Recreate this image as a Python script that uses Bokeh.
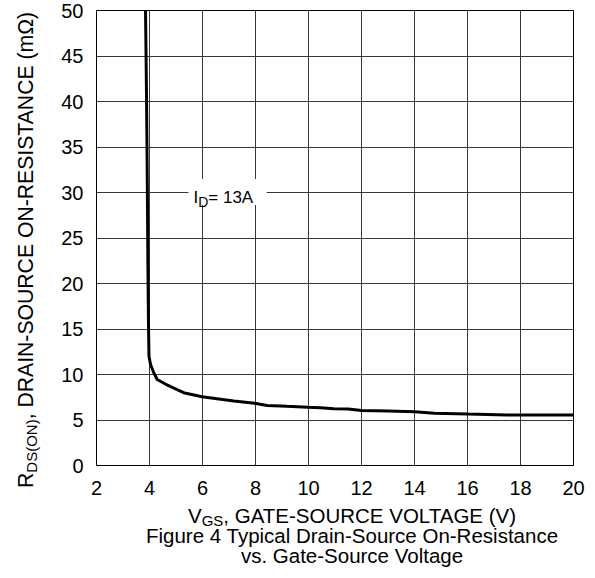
from bokeh.plotting import figure
from bokeh.models import Range1d, FixedTicker, Label, BoxAnnotation, Div
from bokeh.layouts import row, column
from bokeh.embed import file_html
from bokeh.resources import INLINE

# ---- data ----
vgs = [3.85, 3.87, 3.89, 3.92, 3.94, 3.96, 3.97, 3.98, 4.04, 4.16, 4.29, 4.6,
       4.92, 5.29, 5.98, 7.18, 7.97, 8.44, 9.19, 9.98, 10.45, 10.95, 11.5,
       12.0, 13.0, 14.0, 14.75, 16.0, 17.5, 18.0, 20.0]
rds = [50, 45, 40, 30, 22, 16, 14, 12, 11.1, 10.2, 9.45, 8.95,
       8.5, 8.0, 7.55, 7.1, 6.83, 6.6, 6.5, 6.4, 6.35, 6.24, 6.2,
       6.05, 6.0, 5.9, 5.75, 5.65, 5.55, 5.55, 5.55]
x_ticks = [2, 4, 6, 8, 10, 12, 14, 16, 18, 20]
y_ticks = [0, 5, 10, 15, 20, 25, 30, 35, 40, 45, 50]
curve_label = ("I", "D", "= 13A")
x_label = ("V", "GS", ", GATE-SOURCE VOLTAGE (V)")
y_label = ("R", "DS(ON)", ", DRAIN-SOURCE ON-RESISTANCE (m\u03a9)")
caption = ["Figure 4 Typical Drain-Source On-Resistance", "vs. Gate-Source Voltage"]

FONT = "Liberation Sans"

p = figure(width=555, height=505, output_backend="svg", toolbar_location=None,
           x_range=Range1d(2, 20), y_range=Range1d(0, 50),
           min_border_left=56, min_border_right=22, min_border_top=10,
           min_border_bottom=40)
p.background_fill_color = "white"
p.border_fill_color = "white"
p.outline_line_color = "black"
p.outline_line_width = 1

for ax, ticks in ((p.xaxis[0], x_ticks), (p.yaxis[0], y_ticks)):
    ax.ticker = FixedTicker(ticks=ticks)
    ax.axis_line_color = None
    ax.major_tick_line_color = None
    ax.minor_tick_line_color = None
    ax.major_tick_out = 0
    ax.major_tick_in = 0
    ax.minor_tick_out = 0
    ax.major_label_text_font = FONT
    ax.major_label_text_font_size = "20px"
    ax.major_label_text_color = "black"
    ax.axis_label = None
p.xaxis.major_label_standoff = 15
p.yaxis.major_label_standoff = 13

p.xgrid.ticker = FixedTicker(ticks=x_ticks)
p.ygrid.ticker = FixedTicker(ticks=y_ticks)
for g in (p.xgrid[0], p.ygrid[0]):
    g.grid_line_color = "#383838"
    g.grid_line_width = 1

p.line(vgs, rds, line_color="black", line_width=3)

# white box behind the curve label
p.add_layout(BoxAnnotation(left=5.47, right=8.42, bottom=28.63, top=31.48,
                           fill_color="white", fill_alpha=1.0, line_color=None))

def lab(text, x, y, dx, dy, size):
    p.add_layout(Label(x=x, y=y, x_offset=dx, y_offset=dy, text=text,
                       text_font=FONT, text_font_size=f"{size}px",
                       text_color="black", text_align="left",
                       text_baseline="alphabetic"))

# curve label I_D = 13A (anchored at V=2, R=30)
lab(curve_label[0], 2, 30, 97, -4.5, 17)
lab(curve_label[1], 2, 30, 101.8, -9.5, 14)
lab(curve_label[2], 2, 30, 111.8, -4.5, 17)

# ---- y-axis label (rotated HTML text so subscripts stay real text) ----
font_css = f"font-family:'{FONT}';color:black;white-space:nowrap;"
y_html = (
    "<div style='position:relative;width:40px;height:576px;'>"
    "<div style=\"position:absolute;left:14.5px;top:488px;transform-origin:0 0;"
    "transform:rotate(-90deg);font-size:21.2px;line-height:21px;" + font_css + "\">"
    f"{y_label[0]}<span style='font-size:15px;position:relative;top:3.5px;'>{y_label[1]}</span>{y_label[2]}"
    "</div></div>"
)
ydiv = Div(text=y_html, width=40, height=576, margin=0)

# ---- x-axis label and caption (three centred lines) ----
def line_div(inner, top):
    return ("<div style=\"position:absolute;left:312px;top:%.1fpx;transform:translateX(-50%%);"
            "text-align:center;font-size:20.5px;line-height:20px;%s\">%s</div>" % (top, font_css, inner))

x_html = (
    "<div style='position:relative;width:555px;height:71px;'>"
    + line_div(f"{x_label[0]}<span style='font-size:15px;position:relative;top:3px;'>{x_label[1]}</span>{x_label[2]}", 0.9)
    + line_div(caption[0], 20.9)
    + line_div(caption[1], 40.9)
    + "</div>"
)
xdiv = Div(text=x_html, width=555, height=71, margin=0)

layout = row(ydiv, column(p, xdiv, spacing=0), spacing=0)

open("out.html", "w").write(file_html(layout, INLINE))
